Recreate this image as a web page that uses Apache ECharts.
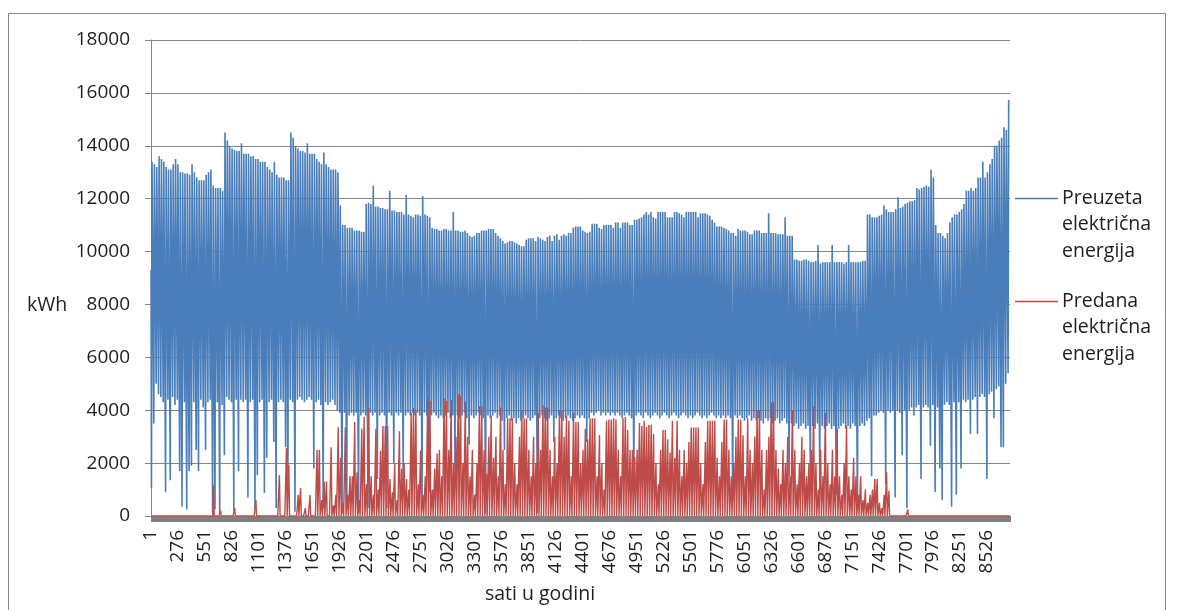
<!DOCTYPE html>
<html>
<head>
<meta charset="utf-8">
<title>Preuzeta i predana električna energija</title>
<script src="https://cdn.jsdelivr.net/npm/echarts@6/dist/echarts.min.js"></script>
<style>
  html, body { margin: 0; padding: 0; background: #ffffff; }
  #chart { width: 1180px; height: 610px; }
</style>
</head>
<body>
<div id="chart"></div>
<script>
// Hourly chart of a year (8760 h): energy taken from and delivered to the grid.
const HOURS_IN_YEAR = 8760;
const hourLabels = Array.from({ length: HOURS_IN_YEAR }, (_, i) => String(i + 1));

const seriesNames = ['Preuzeta\nelektrična\nenergija', 'Predana\nelektrična\nenergija'];
const yMin = 0, yMax = 18000, yStep = 2000;

// Value at the very first hour of the year (kWh).
const firstHourValue = 9300;

// Preuzeta: daytime peak of each day (kWh), one row per week.
const preuzetaPeak = [
  13400,13300,13200,13600,13500,13400,13200,
  13100,13100,13300,13500,13300,13000,13000,
  12950,12950,12900,13300,13000,12800,12700,
  12700,12700,12900,13000,13100,12500,12400,
  12400,12400,12300,14500,14200,14000,13900,
  13850,13800,13800,14100,13700,13700,13700,
  13600,13600,13500,13500,13400,13400,13400,
  13200,13100,13000,13400,12900,12800,12800,
  12800,12700,12700,14500,14300,14000,13900,
  13800,13800,13750,14100,13700,13700,13700,
  13500,13400,13300,13750,13300,13200,13100,
  13100,13100,13000,11750,11000,11000,10900,
  10900,10900,10800,10800,10800,10750,10750,
  11800,11850,11800,12500,11700,11700,11650,
  11650,11600,11600,12300,11550,11550,11500,
  11500,11500,11400,12150,11400,11350,11300,
  11400,11400,11350,12100,11400,11350,11300,
  10900,10850,10850,10800,10800,10850,10850,
  10800,10800,11500,10800,10800,10750,10750,
  10800,10700,10600,10550,10600,10700,10700,
  10800,10800,10800,10850,10850,10850,10700,
  10600,10500,10400,10300,10350,10400,10400,
  10350,10300,10250,10200,10200,10450,10500,
  10500,10500,10400,10550,10500,10450,10400,
  10550,10600,10400,10600,10650,10450,10600,
  10650,10600,10700,10700,10900,10950,10950,
  10950,10800,10750,10700,10750,11050,11050,
  11050,10900,10850,11000,11000,11000,11000,
  10900,11100,11100,10900,11100,11100,11100,
  11000,11000,11200,11200,11250,11300,11400,
  11500,11400,11500,11300,11250,11500,11500,
  11500,11500,11300,11300,11300,11500,11500,
  11450,11400,11300,11500,11500,11500,11500,
  11500,11300,11450,11450,11450,11400,11350,
  11200,11100,10950,10950,10950,10900,10850,
  10800,10700,10700,10600,10850,10800,10800,
  10800,10750,10650,10650,10800,10800,10800,
  10700,10700,10700,11450,10700,10700,10700,
  10650,10650,10650,11300,10600,10600,10600,
  9700,9700,9650,9650,9700,9700,9650,
  9600,9600,9650,10250,9550,9600,9600,
  9600,9600,10250,9600,9600,9600,9600,
  9550,9600,10250,9600,9600,9600,9600,
  9600,9650,9650,11400,11400,11300,11300,
  11300,11350,11400,11750,11600,11500,11500,
  11500,11600,12050,11650,11700,11800,11850,
  11900,11900,11950,12400,12350,12400,12450,
  12500,12450,13100,12800,11000,10700,10700,
  10600,10500,10700,11100,11300,11400,11400,
  11500,11600,11800,12300,12300,12400,12300,
  12400,12800,12800,13400,12800,13000,13300,
  13500,14000,14000,14200,14300,14700,14600,
  15700
];

// Preuzeta: night-time low of each day (kWh), one row per week.
const preuzetaLow = [
  1050,3500,5000,4600,4500,4300,900,
  4400,1350,4500,4200,4400,1700,350,
  4300,250,1700,1900,4300,2500,1700,
  4400,4100,2500,4300,4400,100,250,
  4300,100,4200,2300,4500,4400,4300,
  230,4400,1700,4400,4300,4400,700,
  4300,4400,350,1550,4300,4400,870,
  2200,4300,4400,2800,300,4300,4400,
  4300,2600,1200,4400,4300,160,4400,
  4500,4400,4300,4400,4500,4400,1800,
  4300,4400,4200,300,4300,4200,4300,
  4400,4200,4000,3900,100,3900,300,
  3800,3900,3800,3900,100,3800,3900,
  3800,300,3900,3800,3900,1400,3800,
  3900,3800,300,3900,3800,2000,3900,
  3800,3900,1300,3800,3900,3800,3900,
  3800,3900,3800,700,3900,3800,900,
  3800,3900,3800,3700,3800,3700,3800,
  3900,3700,3800,1800,3800,3700,3800,
  3900,3700,2700,3800,3700,3800,3900,
  3800,3700,100,3800,3700,3800,3900,
  3700,3800,3600,2500,3700,3800,3600,
  3700,3500,3700,3600,3700,3800,3700,
  3600,3700,3800,100,3700,3800,3700,
  3600,3700,3800,2800,3700,3800,3700,
  3600,3700,3800,3700,3600,3700,3800,
  3700,3800,3700,2800,3700,3900,3800,
  3900,4000,3800,3900,3800,3900,3800,
  3900,3800,3900,3800,3700,3800,3900,
  3800,3700,1100,3800,3900,3800,3700,
  3900,3800,3700,3800,3900,3800,3700,
  3800,3900,3800,3700,3800,3900,3800,
  3700,3800,3900,3800,3700,3800,3700,
  3800,3900,3800,3700,3800,3700,3800,
  3900,3800,3700,3800,3700,3800,3700,
  3800,3700,600,3800,3700,3800,3700,
  3600,3700,3800,3600,3700,3600,3700,
  3600,3500,3700,3600,3700,3500,3600,
  3700,3500,3600,3700,3500,1500,3500,
  3400,3500,3300,3400,3500,3300,3400,
  1300,3400,3300,3500,1300,3400,3300,
  3400,3500,3300,3400,800,3300,3400,
  3500,3300,3400,3300,3500,3400,300,
  3400,3500,3400,3600,3700,1500,3800,
  3800,3900,4000,3900,1200,4000,3900,
  4000,700,4000,3900,2300,4000,300,
  4000,4100,3800,4100,4200,1400,4100,
  4200,4100,2650,4200,900,4100,1800,
  600,4200,4300,4200,350,4300,800,
  4300,1800,4400,4300,4400,3100,4400,
  4500,3100,4500,4600,4500,1400,4600,
  4700,3700,4800,4900,2600,2600,5000,
  5400
];

// Predana: midday peak of each day (kWh), one row per week.
const predanaPeak = [
  0,0,0,0,0,0,0,
  0,0,0,0,0,0,0,
  0,0,0,0,0,0,0,
  0,0,0,0,0,1170,0,
  0,200,0,0,0,0,0,
  300,0,0,0,0,0,0,
  0,0,600,0,0,0,0,
  0,0,0,0,0,1550,0,
  0,2570,1930,0,0,0,790,
  1060,0,300,0,790,0,0,
  2500,2500,600,1300,1300,0,2600,
  400,800,3360,2200,500,3360,800,
  1500,1500,3550,1650,600,3300,3750,
  1200,4080,1500,800,3300,1000,2480,
  3400,3400,3400,1400,900,2000,600,
  3200,1800,2000,1400,1000,3900,4080,
  4000,1200,2480,800,1500,4500,4350,
  1000,1800,2370,2500,1500,4450,4350,
  2500,4400,2000,3000,4600,4550,2000,
  4330,3000,1500,2500,800,2000,4150,
  4150,2500,1600,3000,3800,2200,3000,
  1500,4100,2500,1200,3700,3700,3700,
  2000,1200,3000,4000,3700,3700,2500,
  1500,3000,2000,3900,2500,4200,4100,
  4100,2500,1500,3000,2000,4000,4000,
  3000,3800,3600,1500,3900,3550,3550,
  2000,2500,3300,2900,3700,3700,3700,
  1500,3060,2000,1000,3600,3650,3650,
  3700,3650,2500,1500,3700,3740,3250,
  2500,2500,2230,2500,3520,3400,3600,
  3370,3450,3450,3100,2000,1200,2500,
  3250,3250,2900,2400,3600,2200,3600,
  2500,1500,2500,2000,2800,3350,3350,
  3350,3350,2000,1200,2800,3600,3600,
  3600,3600,2200,1500,2800,3650,3650,
  2500,1500,2000,3000,3650,3650,3050,
  1500,3700,2500,2000,3000,4000,4000,
  2500,1000,2500,3000,4300,4300,2500,
  1800,1200,2500,2000,3000,1500,4000,
  2500,1200,2000,3000,2500,1500,2000,
  2500,4150,2000,1000,2500,1500,3900,
  2000,1200,2500,1500,3300,1500,800,
  2000,3400,1500,1000,2200,1500,800,
  1500,600,1000,500,800,1000,1400,
  1400,500,300,800,1650,950,0,
  0,0,0,0,0,0,250,
  0,0,0,0,0,0,0,
  0,0,0,0,0,0,0,
  0,0,0,0,0,0,0,
  0,0,0,0,0,0,0,
  0,0,0,0,0,0,0,
  0,0,0,0,0,0,0,
  0
];

const BLUE = '#4A7EBB';
const RED = '#BE4B48';
const GRID = '#868686';
const TEXT = '#1e1e1e';
const FONT = '"Open Sans", Lato, sans-serif';
const TICK_SIZE = 19;
const TITLE_SIZE = 19.5;

// Hour-of-day anchors for the daily load curve and the midday delivery.
const NIGHT_HOUR = 4, DAY_START = 10, DAY_END = 19;
const SUN_START = 6, SUN_PEAK = 13, SUN_END = 20;

const preuzetaData = [[0, firstHourValue]];
preuzetaPeak.forEach((peak, d) => {
  const h = d * 24;
  preuzetaData.push([h + NIGHT_HOUR, preuzetaLow[d]], [h + DAY_START, peak], [h + DAY_END, peak]);
});

const predanaData = [];
predanaPeak.forEach((peak, d) => {
  const h = d * 24;
  predanaData.push([h + SUN_START, 0], [h + SUN_PEAK, peak], [h + SUN_END, 0]);
});

const chart = echarts.init(document.getElementById('chart'), null, { renderer: 'canvas' });

const legendLine = (y, color) => ({
  type: 'line', silent: true,
  shape: { x1: 1015, y1: y, x2: 1058, y2: y },
  style: { stroke: color, lineWidth: 1.5 }
});
const legendText = (y, text) => ({
  type: 'text', silent: true, x: 1062, y: y - 13.25,
  style: { text, font: `${TITLE_SIZE}px ${FONT}`, lineHeight: 26.5, fill: TEXT, verticalAlign: 'top', align: 'left' }
});

chart.setOption({
  animation: false,
  backgroundColor: '#ffffff',
  textStyle: { fontFamily: FONT },
  grid: { left: 151, right: 170, top: 40, bottom: 94, containLabel: false },
  xAxis: {
    type: 'category',
    data: hourLabels,
    boundaryGap: true,
    axisLine: { show: true, lineStyle: { color: GRID, width: 1 } },
    axisTick: { show: true, interval: 0, length: 6, lineStyle: { color: '#808080', width: 1 } },
    axisLabel: {
      interval: 274, rotate: 90, margin: 14,
      fontFamily: FONT, fontSize: TICK_SIZE, color: TEXT
    },
    splitLine: { show: false }
  },
  yAxis: {
    type: 'value',
    min: yMin, max: yMax, interval: yStep,
    axisLine: { show: true, lineStyle: { color: GRID, width: 1 } },
    axisTick: { show: true, length: 6, lineStyle: { color: GRID } },
    axisLabel: { margin: 21, fontFamily: FONT, fontSize: TICK_SIZE, color: TEXT, formatter: v => String(v) },
    splitLine: { show: true, lineStyle: { color: GRID, width: 1 } }
  },
  series: [
    {
      name: seriesNames[0], type: 'line', data: preuzetaData,
      showSymbol: false, symbol: 'none', sampling: false, z: 2,
      lineStyle: { color: BLUE, width: 1.6 }, itemStyle: { color: BLUE }
    },
    {
      name: seriesNames[1], type: 'line', data: predanaData,
      showSymbol: false, symbol: 'none', sampling: false, z: 3,
      lineStyle: { color: RED, width: 1.4 }, itemStyle: { color: RED }
    }
  ],
  graphic: [
    { type: 'rect', silent: true, shape: { x: 8.5, y: 13.5, width: 1157, height: 640 },
      style: { fill: 'none', stroke: GRID, lineWidth: 1 } },
    legendLine(198.5, BLUE), legendText(198, seriesNames[0]),
    legendLine(301.5, RED), legendText(301, seriesNames[1]),
    { type: 'text', silent: true, x: 47, y: 305,
      style: { text: 'kWh', font: `${TITLE_SIZE}px ${FONT}`, fill: TEXT, align: 'center', verticalAlign: 'middle' } },
    { type: 'text', silent: true, x: 540, y: 594,
      style: { text: 'sati u godini', font: `${TITLE_SIZE}px ${FONT}`, fill: TEXT, align: 'center', verticalAlign: 'middle' } }
  ]
});
</script>
</body>
</html>
